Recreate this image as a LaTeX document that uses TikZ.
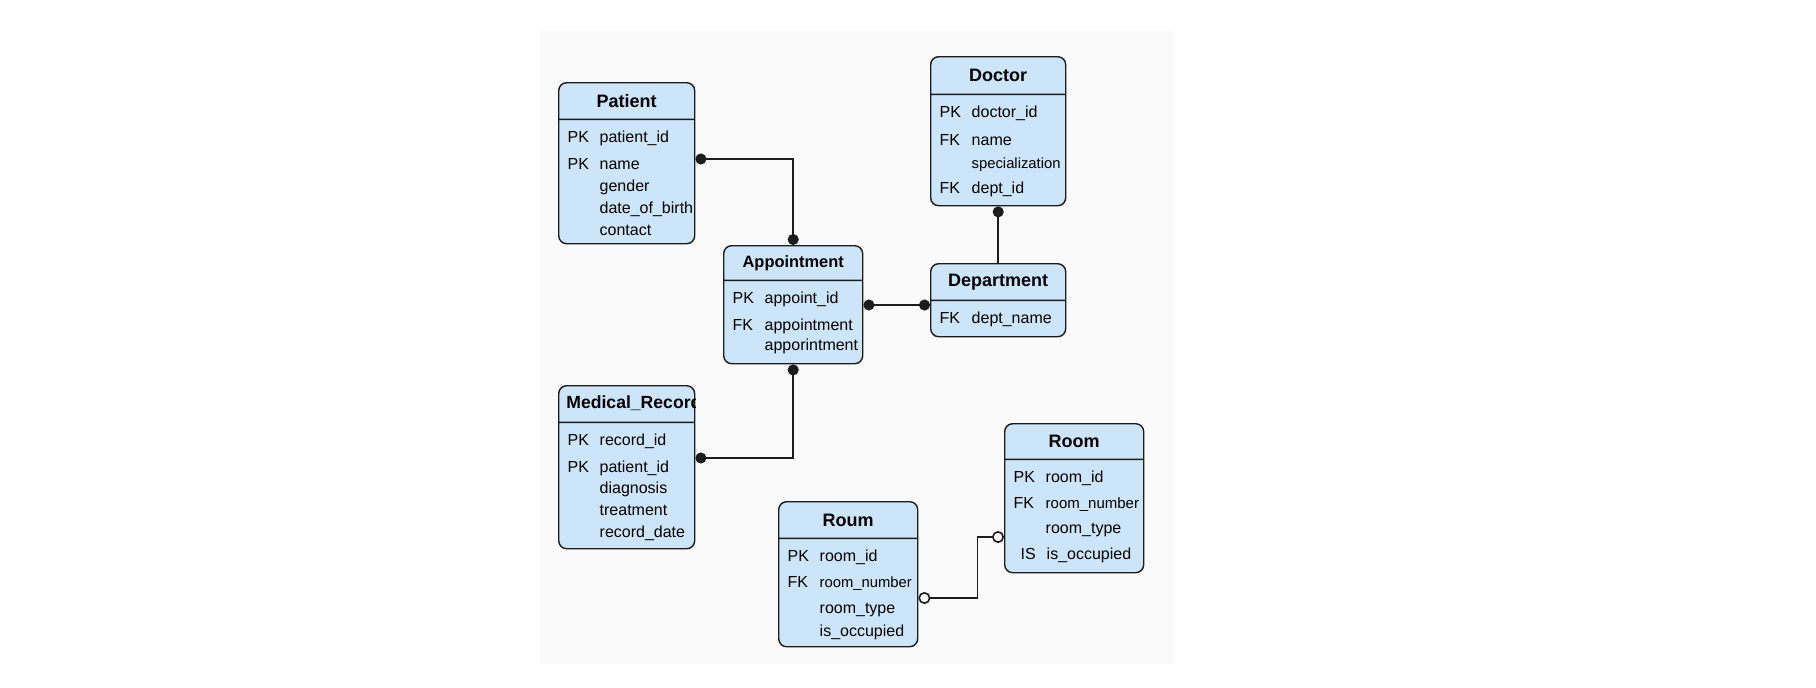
\documentclass[tikz,border=0pt]{standalone}
\usepackage{fontspec}
\setmainfont{Liberation Sans}
\usepackage{tikz}
\usetikzlibrary{shapes,arrows.meta}
\usepackage{xcolor}
\definecolor{tabblue}{HTML}{CCE5F8}
\definecolor{edge}{HTML}{1C1C1C}
\definecolor{pagegray}{HTML}{FAFAFA}
\newcommand{\fld}[2]{\hspace*{4.5pt}\makebox[16pt][l]{#1}{#2}}
\newcommand{\hd}[3]{\parbox[c][#2][c]{#1}{\centering\bfseries\fontsize{9}{11}\selectfont #3}}
\newcommand{\bd}[3]{\parbox[c][#2][t]{#1}{\rule{0pt}{11pt}#3}}

\begin{document}
\begin{tikzpicture}[x=0.5pt,y=-0.5pt]
    \tikzstyle{entity}=[rectangle split, rectangle split parts=2, draw=edge, line width=0.7pt, rounded corners=4pt, fill=tabblue, inner sep=0pt, anchor=north west, font=\fontsize{8}{11}\selectfont]
    \tikzstyle{link}=[line width=0.8pt, draw=edge]
    \tikzstyle{dots}=[link, {Circle[length=5.5pt]}-{Circle[length=5.5pt]}]
    \tikzstyle{dotline}=[link, {Circle[length=5.5pt]}-]
    \tikzstyle{rings}=[link, {Circle[open,fill=white,length=6pt]}-{Circle[open,fill=white,length=6pt]}]
    \useasboundingbox (0,0) rectangle (1816,687);
    \fill[pagegray] (540,31) rectangle (1173,664);
    % tables
    \node[entity] (pat) at (558,82) {\hd{68pt}{17.6pt}{Patient} \nodepart{two}
      \bd{68pt}{61.5pt}{\fld{PK}{patient\_id}\\[2.5pt] \fld{PK}{name}\\ \fld{}{gender}\\ \fld{}{date\_of\_birth}\\ \fld{}{contact}}};
    \node[entity] (app) at (723,245) {\hd{69.5pt}{16.6pt}{\fontsize{8.2}{10}\selectfont Appointment} \nodepart{two}
      \bd{69.5pt}{41pt}{\fld{PK}{appoint\_id}\\[2.5pt] \fld{FK}{appointment}\\[-1pt] \fld{}{apporintment}}};
    \node[entity] (doc) at (930,56) {\hd{67.5pt}{18.1pt}{Doctor} \nodepart{two}
      \bd{67.5pt}{55pt}{\fld{PK}{doctor\_id}\\[3pt] \fld{FK}{name}\\[0.5pt] \fld{}{\fontsize{7.4}{11}\selectfont specialization}\\[1.5pt] \fld{FK}{dept\_id}}};
    \node[entity] (dept) at (930,263) {\hd{67.5pt}{17.6pt}{Department} \nodepart{two}
      \bd{67.5pt}{17.5pt}{\fld{FK}{dept\_name}}};
    \node[entity] (mr) at (558,385) {\hd{68pt}{17.6pt}{} \nodepart{two}
      \bd{68pt}{62.5pt}{\fld{PK}{record\_id}\\[2.5pt] \fld{PK}{patient\_id}\\[-0.5pt] \fld{}{diagnosis}\\ \fld{}{treatment}\\ \fld{}{record\_date}}};
    \begin{scope}
      \clip (mr.north west) rectangle ([yshift=-18pt]mr.north east);
      \node[anchor=west, inner sep=0pt, font=\fontsize{8.8}{11}\selectfont\bfseries] (mrtitle) at ([xshift=4pt,yshift=-9pt]mr.north west) {Medical\_Record};
    \end{scope}
    \node[entity] (roum) at (778,501) {\hd{69.5pt}{17.6pt}{Roum} \nodepart{two}
      \bd{69.5pt}{53.5pt}{\fld{PK}{room\_id}\\[2pt] \fld{FK}{\fontsize{7.4}{11}\selectfont room\_number}\\[2pt] \fld{}{room\_type}\\[0.5pt] \fld{}{is\_occupied}}};
    \node[entity] (room) at (1004,423) {\hd{69.5pt}{17.1pt}{Room} \nodepart{two}
      \bd{69.5pt}{56pt}{\fld{PK}{room\_id}\\[2pt] \fld{FK}{\fontsize{7.5}{11}\selectfont room\_number}\\[1.5pt] \fld{}{room\_type}\\[2pt] \hspace*{8pt}\makebox[13pt][l]{IS}is\_occupied}};
    % links
    \coordinate (patlink) at ([yshift=-38.5pt]pat.north east);
    \draw[dots] (patlink) -| (app.north);
    \coordinate (applink) at ([yshift=-30pt]app.north east);
    \draw[dots] (applink) -- (applink -| dept.west);
    \draw[dotline] (doc.south) -- (dept.north);
    \coordinate (mrlink) at ([yshift=-36.5pt]mr.north east);
    \draw[dots] (app.south) |- (mrlink);
    \coordinate (roumlink) at ([yshift=-48.5pt]roum.north east);
    \coordinate (roomlink) at ([yshift=-57pt]room.north west);
    \draw[rings] (roumlink) -- ++(59,0) |- (roomlink);
\end{tikzpicture}
\end{document}
